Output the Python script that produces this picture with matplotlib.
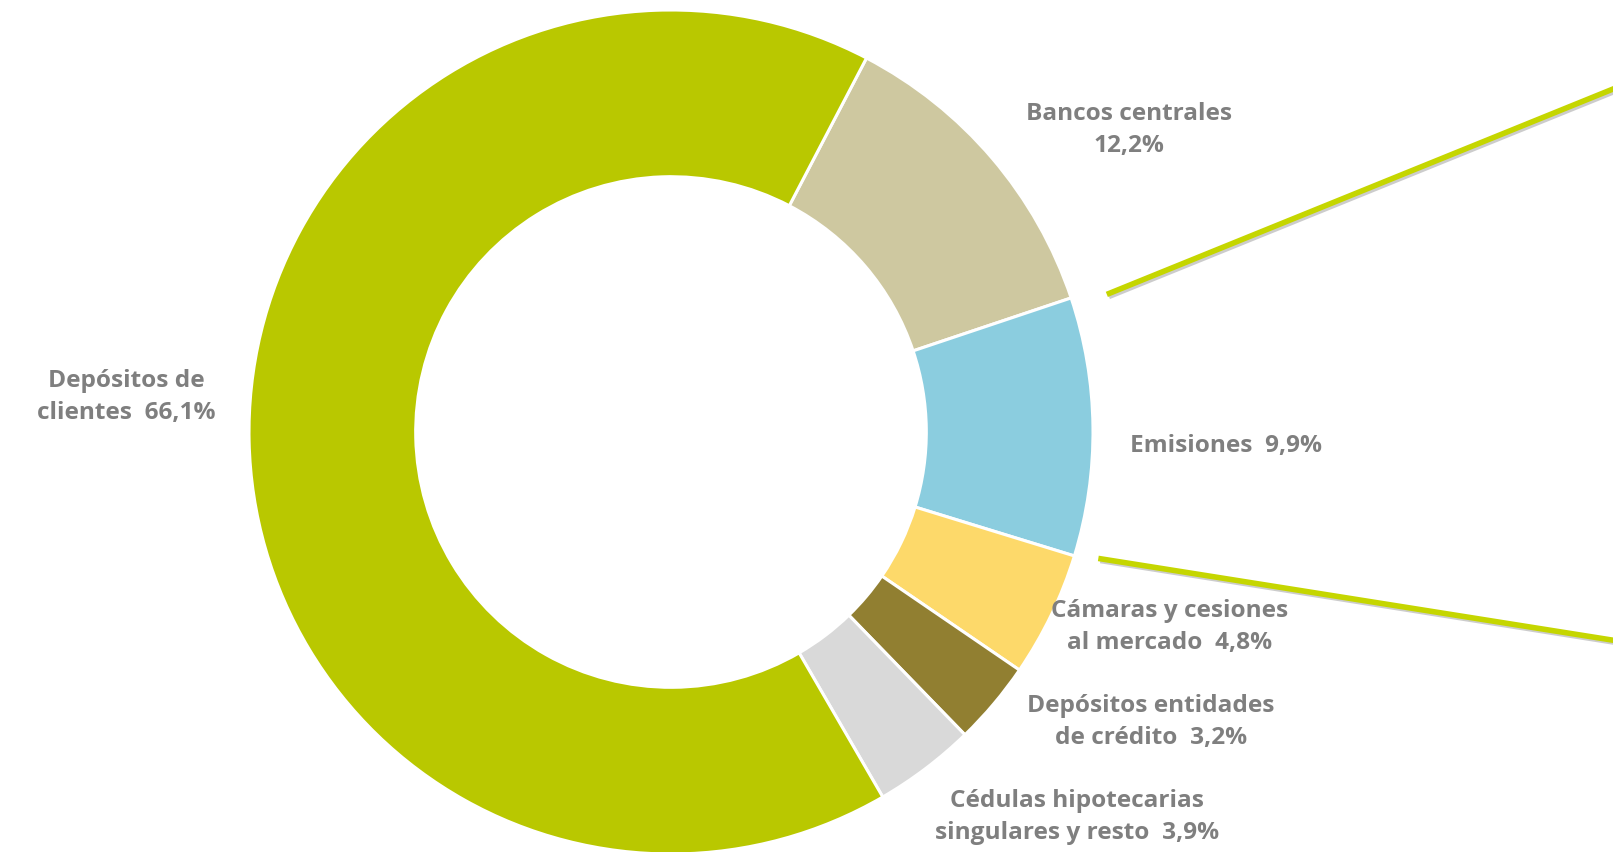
import numpy as np
import matplotlib
matplotlib.use("Agg")
import matplotlib.pyplot as plt
import matplotlib.patheffects as pe

# Structure of funding (%)
categories = [
    "Bancos centrales",
    "Emisiones",
    "Cámaras y cesiones al mercado",
    "Depósitos entidades de crédito",
    "Cédulas hipotecarias singulares y resto",
    "Depósitos de clientes",
]
shares = [12.2, 9.9, 4.8, 3.2, 3.9, 66.1]
label_texts = [
    "Bancos centrales\n12,2%",
    "Emisiones  9,9%",
    "Cámaras y cesiones\nal mercado  4,8%",
    "Depósitos entidades\nde crédito  3,2%",
    "Cédulas hipotecarias\nsingulares y resto  3,9%",
    "Depósitos de\nclientes  66,1%",
]
colors = ["#CEC8A0", "#8BCDDF", "#FDD96A", "#917F31", "#D9D9D9", "#B9C800"]

W, H = 1613, 853
fig = plt.figure(figsize=(W / 100, H / 100), dpi=100)
ax = fig.add_axes([0, 0, 1, 1])

cx, cy, R = 671, 420, 422
ring = 0.395

wedges, _ = ax.pie(
    shares,
    colors=colors,
    startangle=62.4,
    counterclock=False,
    center=(cx, cy),
    radius=R,
    frame=True,
    wedgeprops=dict(width=R * ring, edgecolor="white", linewidth=2.2),
)
ax.set_xlim(0, W)
ax.set_ylim(0, H)
ax.set_aspect("equal")
ax.axis("off")

# Label positions (pixel coords, y upward)
label_pos = [
    (1129, H - 130),
    (1226, H - 446),
    (1170, H - 627),
    (1151, H - 722),
    (1077, H - 817),
    (126, H - 397),
]
for txt, (x, y) in zip(label_texts, label_pos):
    ax.text(x, y, txt, ha="center", va="center", fontsize=17.6,
            fontweight="bold", color="#7F7F7F", family="Open Sans",
            linespacing=1.42)

# Connector lines from the "Emisiones" wedge to the right edge
em = wedges[1]
lo, hi = sorted([em.theta1, em.theta2])
line_color = "#C5D600"
shadow = [pe.SimpleLineShadow(offset=(1.5, -1.5), shadow_color="#9a9a9a", alpha=0.5),
          pe.Normal()]
for ang, rf, y_end in [(hi - 1.0, 1.083, H - 88), (lo + 0.6, 1.056, H - 642)]:
    r0 = R * rf
    x0 = cx + r0 * np.cos(np.radians(ang))
    y0 = cy + r0 * np.sin(np.radians(ang))
    ax.plot([x0, W + 5], [y0, y_end], color=line_color, lw=4.0,
            solid_capstyle="butt", path_effects=shadow, clip_on=False)

fig.savefig("out.png", dpi=100)
